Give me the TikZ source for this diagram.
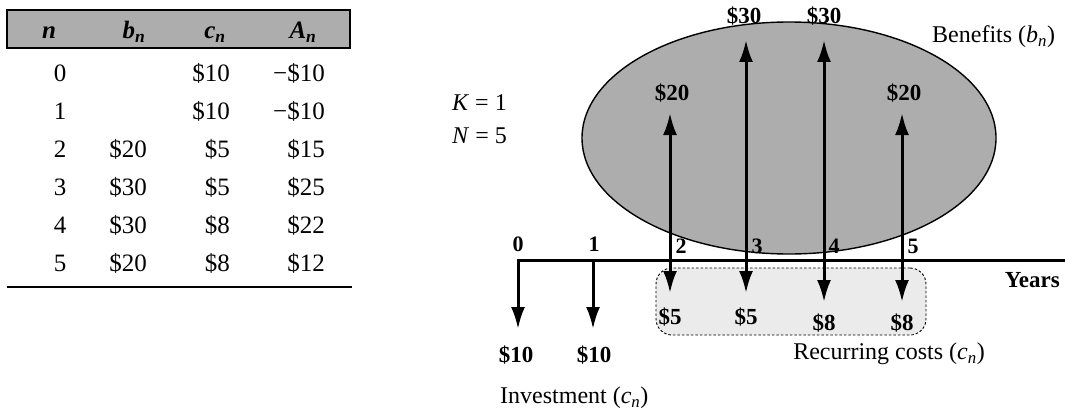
\documentclass[tikz,border=0pt]{standalone}
\usepackage{fontspec}
\setmainfont{Liberation Serif}
\usetikzlibrary{arrows.meta,shapes.geometric}
\begin{document}
\begin{tikzpicture}[x=1pt,y=-1pt,
  txt/.style={inner sep=0pt, font=\fontsize{24}{28}\selectfont},
  tbl/.style={inner sep=0pt, text height=17pt, text depth=0pt, font=\fontsize{25}{30}\selectfont},
  hdr/.style={inner sep=0pt, text height=17pt, text depth=0pt, font=\fontsize{25}{30}\selectfont\bfseries\itshape},
  val/.style={inner sep=0pt, text height=16pt, text depth=0pt, font=\fontsize{23}{28}\selectfont\bfseries},
  yr/.style={inner sep=0pt, text height=15pt, text depth=0pt, font=\fontsize{22}{26}\selectfont\bfseries},
  halftone/.style={fill=black!32},
  flow/.style={line width=3pt, -{Latex[length=22pt,width=14pt]}},
  dflow/.style={line width=3pt, {Latex[length=22pt,width=14pt]}-{Latex[length=22pt,width=14pt]}},
]
\useasboundingbox (0,0) rectangle (1065,412);

% ---------- table ----------
\node[draw, line width=1.2pt, halftone, minimum width=343pt, minimum height=38pt, inner sep=0pt] (hband) at (178.5,29) {};
\node[hdr] (hn) at (49,30) {n};
\node[hdr] (hb) at (134,30) {b\textsubscript{n}};
\node[hdr] (hc) at (215,30) {c\textsubscript{n}};
\node[hdr] (ha) at (303,30) {A\textsubscript{n}};

\foreach \n/\b/\c/\a [count=\i from 0] in {0//\$10/−\$10, 1//\$10/−\$10, 2/\$20/\$5/\$15, 3/\$30/\$5/\$25, 4/\$30/\$8/\$22, 5/\$20/\$8/\$12}{
  \node[tbl] (n\i) at (60,73+38*\i) {\n};
  \node[tbl, anchor=east] (b\i) at (147,73+38*\i) {\b};
  \node[tbl, anchor=east] (c\i) at (230,73+38*\i) {\c};
  \node[tbl, anchor=east] (a\i) at (325,73+38*\i) {\a};
}
\coordinate (rl) at (7,287);
\coordinate (rr) at (352,287);
\draw[line width=1.8pt] (rl) -- (rr);

% ---------- cash flow diagram ----------
\node[txt, anchor=west] (K) at (452,103) {\textit{K} = 1};
\node[txt, anchor=west] (N) at (452,136) {\textit{N} = 5};

\node[draw, ellipse, halftone, line width=1.4pt, minimum width=414pt, minimum height=232pt, inner sep=0pt] (ben) at (789,138) {};
\node[draw, line width=0.9pt, dash pattern=on 2.5pt off 2pt, rounded corners=16pt, fill=black!8, minimum width=270pt, minimum height=67pt, inner sep=0pt] (rec) at (791,301.5) {};

\coordinate (o) at (516.5,260);
\coordinate (axend) at (1065,260);
\draw[line width=3pt] (o) -- (axend);

% year positions
\coordinate (t0) at (518,260);
\coordinate (t1) at (593,260);
\coordinate (d0) at (518,329);
\coordinate (d1) at (593,329);
\coordinate (u2) at (670,113);
\coordinate (d2) at (670,293);
\coordinate (u3) at (746,40);
\coordinate (d3) at (746,293);
\coordinate (u4) at (824,40);
\coordinate (d4) at (824,302);
\coordinate (u5) at (902,113);
\coordinate (d5) at (902,302);

\draw[flow] (t0) -- (d0);
\draw[flow] (t1) -- (d1);
\draw[dflow] (u2) -- (d2);
\draw[dflow] (u3) -- (d3);
\draw[dflow] (u4) -- (d4);
\draw[dflow] (u5) -- (d5);

% year numbers
\node[yr] (y0) at (518,244) {0};
\node[yr] (y1) at (594,244) {1};
\node[yr] (y2) at (681,246) {2};
\node[yr] (y3) at (757,246) {3};
\node[yr] (y4) at (834,246) {4};
\node[yr] (y5) at (913,246) {5};

% values
\node[val] (v0) at (516,354) {\$10};
\node[val] (v1) at (594,354) {\$10};
\node[val] (bv2) at (672,92) {\$20};
\node[val] (bv3) at (744,16) {\$30};
\node[val] (bv4) at (824,16) {\$30};
\node[val] (bv5) at (904,92) {\$20};
\node[val] (cv2) at (670,316) {\$5};
\node[val] (cv3) at (746,316) {\$5};
\node[val] (cv4) at (824,322) {\$8};
\node[val] (cv5) at (902,322) {\$8};

% captions
\node[txt, anchor=west] (benlbl) at (932,37) {Benefits (\textit{b}\textsubscript{\textit{n}})};
\node[txt, anchor=east, font=\fontsize{23}{28}\selectfont\bfseries] (years) at (1060,280) {Years};
\node[txt] (reclbl) at (889,354) {Recurring costs (\textit{c}\textsubscript{\textit{n}})};
\node[txt, anchor=west] (inv) at (500,398) {Investment (\textit{c}\textsubscript{\textit{n}})};
\end{tikzpicture}
\end{document}
